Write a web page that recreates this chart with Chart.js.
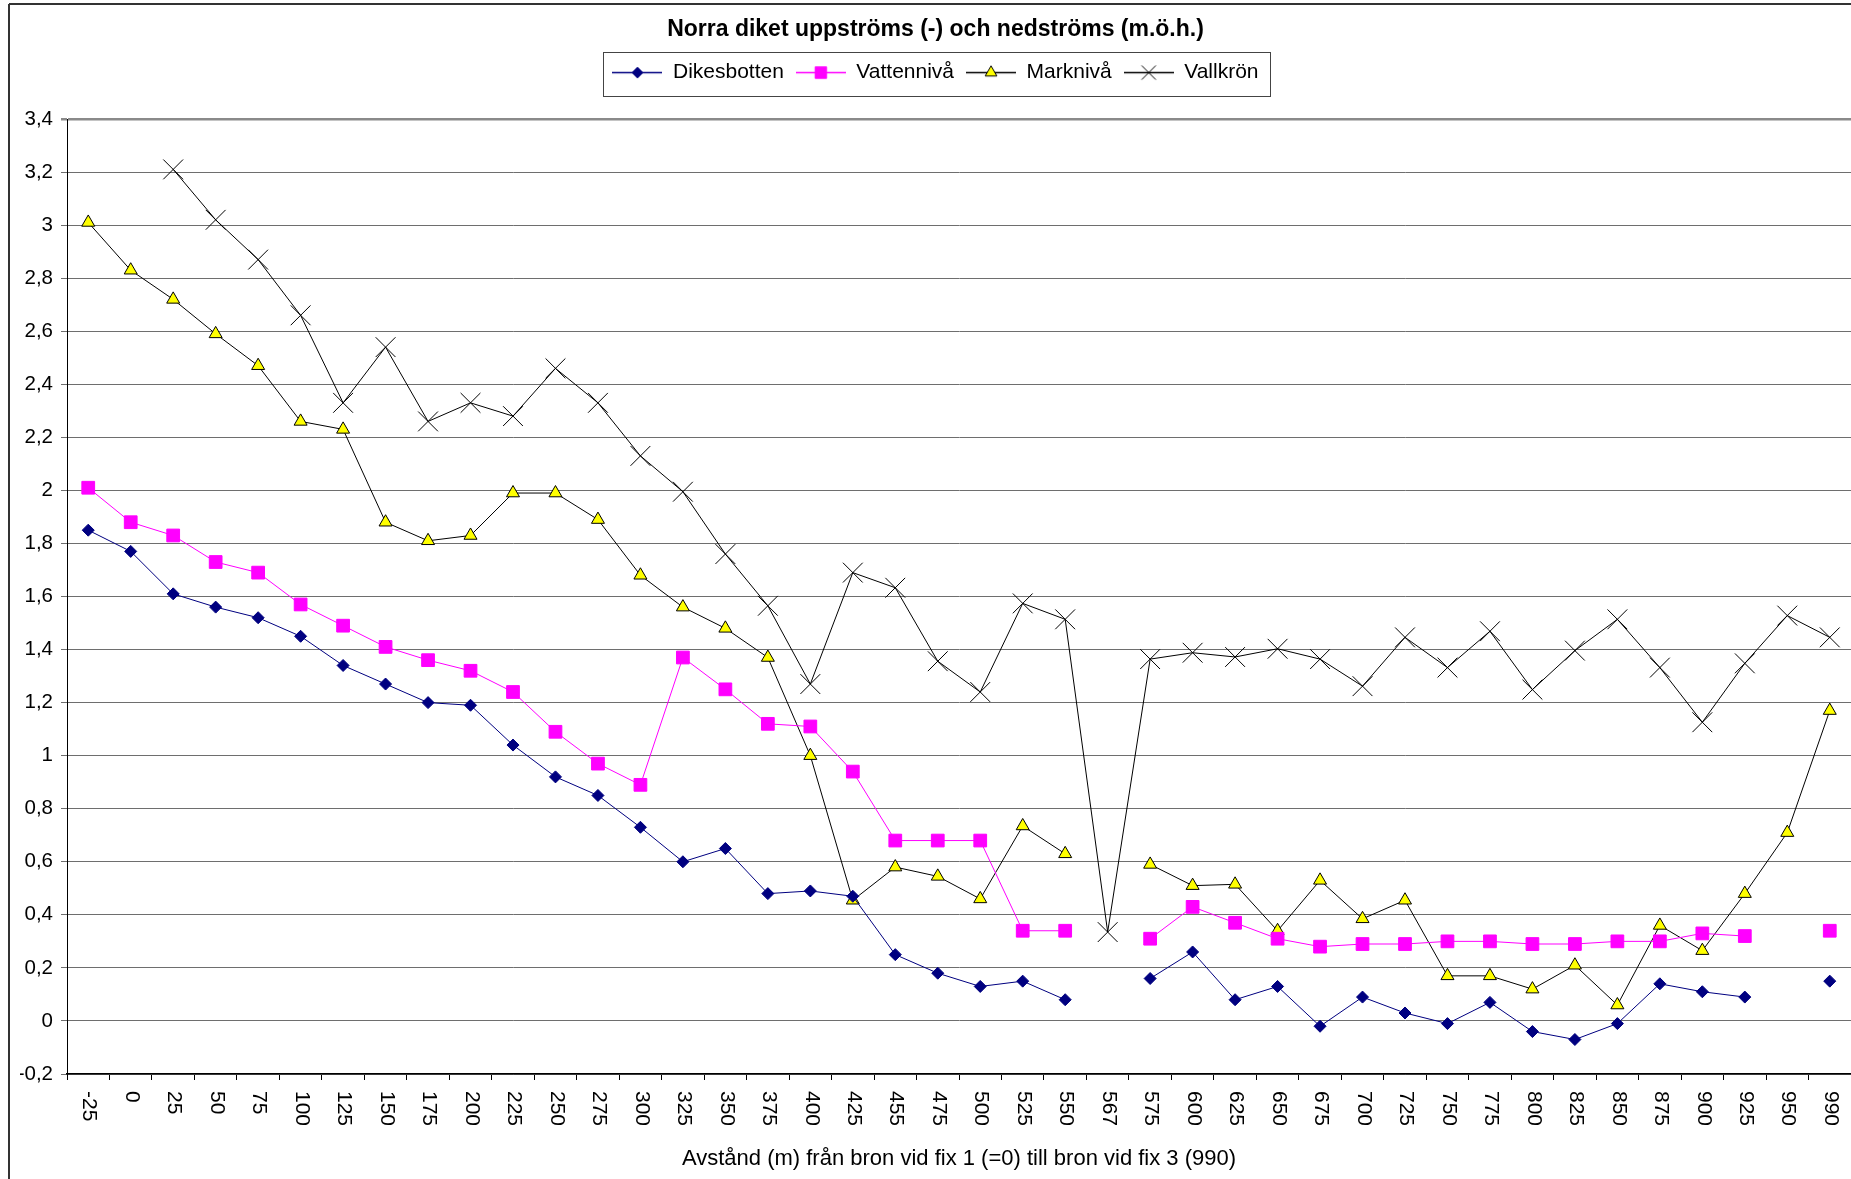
<!DOCTYPE html>
<html>
<head>
<meta charset="utf-8">
<title>Norra diket</title>
<script src="https://cdn.jsdelivr.net/npm/chart.js@4.4.0/dist/chart.umd.min.js"></script>
<style>
  html, body { margin:0; padding:0; background:#fff; }
  canvas { display:block; }
</style>
</head>
<body>
<canvas id="chart" width="1851" height="1179"></canvas>
<script>
/* DATA */
const labels = ["-25","0","25","50","75","100","125","150","175","200","225","250","275","300","325","350","375","400","425","455","475","500","525","550","567","575","600","625","650","675","700","725","750","775","800","825","850","875","900","925","950","990"];

const dikesbotten = [1.85,1.77,1.61,1.56,1.52,1.45,1.34,1.27,1.20,1.19,1.04,0.92,0.85,0.73,0.60,0.65,0.48,0.49,0.47,0.25,0.18,0.13,0.15,0.08,null,0.16,0.26,0.08,0.13,-0.02,0.09,0.03,-0.01,0.07,-0.04,-0.07,-0.01,0.14,0.11,0.09,null,0.15];
const vattenniva  = [2.01,1.88,1.83,1.73,1.69,1.57,1.49,1.41,1.36,1.32,1.24,1.09,0.97,0.89,1.37,1.25,1.12,1.11,0.94,0.68,0.68,0.68,0.34,0.34,null,0.31,0.43,0.37,0.31,0.28,0.29,0.29,0.30,0.30,0.29,0.29,0.30,0.30,0.33,0.32,null,0.34];
const markniva    = [3.01,2.83,2.72,2.59,2.47,2.26,2.23,1.88,1.81,1.83,1.99,1.99,1.89,1.68,1.56,1.48,1.37,1.00,0.455,0.58,0.545,0.46,0.735,0.63,null,0.59,0.51,0.515,0.34,0.53,0.385,0.455,0.17,0.17,0.12,0.21,0.06,0.36,0.265,0.48,0.71,1.17];
const vallkron    = [null,null,3.21,3.02,2.87,2.66,2.33,2.54,2.26,2.33,2.28,2.46,2.33,2.13,1.995,1.76,1.565,1.27,1.69,1.633,1.356,1.24,1.574,1.514,0.335,1.364,1.388,1.372,1.403,1.364,1.262,1.446,1.332,1.469,1.249,1.396,1.514,1.332,1.126,1.348,1.528,1.446];

const seriesNames = ["Dikesbotten","Vattennivå","Marknivå","Vallkrön"];
const yMin = -0.2, yMax = 3.4, yStep = 0.2;

const titleText = "Norra diket uppströms (-) och nedströms (m.ö.h.)";
const xTitleText = "Avstånd (m) från bron vid fix 1 (=0) till bron vid fix 3 (990)";

/* STYLE */
const FONT = '"Liberation Sans", Arial, sans-serif';
Chart.defaults.font.family = FONT;
Chart.defaults.color = "#000";

const styles = [
  { line:"#000080", fill:"#000080", border:"#000080", point:"rectRot",  r:6 },
  { line:"#ff00ff", fill:"#ff00ff", border:"#ff00ff", point:"rect",     r:9 },
  { line:"#000000", fill:"#ffff00", border:"#000000", point:"triangle", r:7.5 },
  { line:"#000000", fill:"#000000", border:"#000000", point:"crossRot", r:14 }
];

/* legend samples: line with marker in the middle */
function shapePath(g, type, x, y, r){
  g.beginPath();
  if(type==="rect"){ const s=r*Math.SQRT1_2; g.rect(x-s,y-s,2*s,2*s); }
  else if(type==="rectRot"){ g.moveTo(x-r,y); g.lineTo(x,y-r); g.lineTo(x+r,y); g.lineTo(x,y+r); g.closePath(); }
  else if(type==="triangle"){ const w=r*Math.sin(Math.PI*2/3); g.moveTo(x,y-r); g.lineTo(x+w,y+r/2); g.lineTo(x-w,y+r/2); g.closePath(); }
  else { const o=r*Math.SQRT1_2; g.moveTo(x-o,y-o); g.lineTo(x+o,y+o); g.moveTo(x+o,y-o); g.lineTo(x-o,y+o); }
}
function legendIcon(st){
  const c = document.createElement("canvas"); c.width = 50; c.height = 22;
  const g = c.getContext("2d");
  g.strokeStyle = st.line; g.lineWidth = 1.5;
  g.beginPath(); g.moveTo(0,11.5); g.lineTo(50,11.5); g.stroke();
  const r = st.point==="crossRot" ? 10 : st.r*0.9;
  shapePath(g, st.point, 25, 11.5, r);
  g.fillStyle = st.fill; g.strokeStyle = st.border; g.lineWidth = 1;
  if(st.point!=="crossRot") g.fill();
  g.stroke();
  return c;
}
const icons = styles.map(legendIcon);

const seriesData = [dikesbotten, vattenniva, markniva, vallkron];
const datasets = seriesData.map((d,i)=>({
  label: seriesNames[i],
  data: d,
  borderColor: styles[i].line,
  borderWidth: 1,
  backgroundColor: styles[i].fill,
  pointStyle: styles[i].point,
  pointRadius: styles[i].r,
  pointHoverRadius: styles[i].r,
  pointBackgroundColor: styles[i].fill,
  pointBorderColor: styles[i].border,
  pointBorderWidth: 1,
  spanGaps: false,
  tension: 0,
  clip: false
}));

/* PLUGINS */
const decor = {
  id: "decor",
  beforeDraw(chart){
    const ctx = chart.ctx;
    ctx.save(); ctx.fillStyle = "#fff"; ctx.fillRect(0,0,chart.width,chart.height); ctx.restore();
  },
  afterDraw(chart){
    const {ctx, scales:{x}} = chart;
    // x tick labels, rotated clockwise
    ctx.save();
    ctx.font = "21px " + FONT; ctx.fillStyle = "#000";
    ctx.textAlign = "left"; ctx.textBaseline = "middle";
    labels.forEach((lab,i)=>{
      const px = x.getPixelForTick(i);
      ctx.save(); ctx.translate(px+1, x.top + 17); ctx.rotate(Math.PI/2);
      ctx.fillText(lab, 0, 0); ctx.restore();
    });
    ctx.restore();

    // legend frame
    const hb = chart.legend.legendHitBoxes;
    if(hb && hb.length){
      const l = hb[0].left - 9, r = hb[hb.length-1].left + hb[hb.length-1].width + 12;
      const cy = hb[0].top + hb[0].height/2;
      ctx.save(); ctx.strokeStyle = "#444"; ctx.lineWidth = 1;
      ctx.strokeRect(Math.round(l)+0.5, Math.round(cy-20)+0.5, Math.round(r-l), 44);
      ctx.restore();
    }

    // outer frame
    ctx.save(); ctx.strokeStyle = "#333";
    ctx.lineWidth = 2; ctx.beginPath(); ctx.moveTo(9,4); ctx.lineTo(chart.width,4); ctx.stroke();
    ctx.beginPath(); ctx.moveTo(9,4); ctx.lineTo(9,chart.height); ctx.stroke();
    ctx.restore();
  }
};

new Chart(document.getElementById("chart"), {
  type: "line",
  data: { labels, datasets },
  plugins: [decor],
  options: {
    responsive: false,
    devicePixelRatio: 1,
    animation: false,
    events: [],
    layout: { autoPadding: false, padding: { top:0, left:20, right:0, bottom:0 } },
    plugins: {
      title: {
        display: true, text: titleText, color:"#000",
        font: { size: 23, weight: "bold" },
        padding: { top: 16, bottom: 6 }
      },
      subtitle: {
        display: true, text: " ", weight: 500,
        font: { size: 10 }, padding: { top: 14.4, bottom: 0 }
      },
      legend: {
        display: true, position: "top",
        labels: {
          usePointStyle: true, pointStyleWidth: 50, padding: 12,
          font: { size: 21 }, color:"#000",
          generateLabels(chart){
            const items = Chart.defaults.plugins.legend.labels.generateLabels(chart);
            items.forEach((it,i)=>{ it.pointStyle = icons[i]; it.rotation = 0; });
            return items;
          }
        }
      },
      tooltip: { enabled: false }
    },
    scales: {
      x: {
        type: "category",
        offset: true,
        afterFit(s){ s.height = 105; s.paddingLeft = 0; s.paddingRight = 0; },
        grid: { display: true, offset: true, drawOnChartArea: false, drawTicks: true, tickLength: 6, color: "#000" },
        border: { display: true, color: "#000", width: 1.5 },
        ticks: { display: false, autoSkip: false },
        title: { display: true, text: xTitleText, color:"#000", font: { size: 22 }, padding: { top: 0, bottom: 7 } }
      },
      y: {
        min: yMin, max: yMax,
        afterFit(s){ s.width = 47; },
        grid: {
          color: ctx => (ctx.tick && Math.abs(ctx.tick.value - yMax) < 1e-6) ? "#8a8a8a" : "#6e6e6e",
          lineWidth: ctx => (ctx.tick && Math.abs(ctx.tick.value - yMax) < 1e-6) ? 2.5 : 1,
          tickLength: 6, drawTicks: true
        },
        border: { display: true, color: "#000", width: 1 },
        ticks: {
          stepSize: yStep, padding: 8, color: "#000",
          font: { size: 20.5 },
          callback: v => String(Number(v.toFixed(1))).replace(".", ",")
        }
      }
    }
  }
});
</script>
</body>
</html>
